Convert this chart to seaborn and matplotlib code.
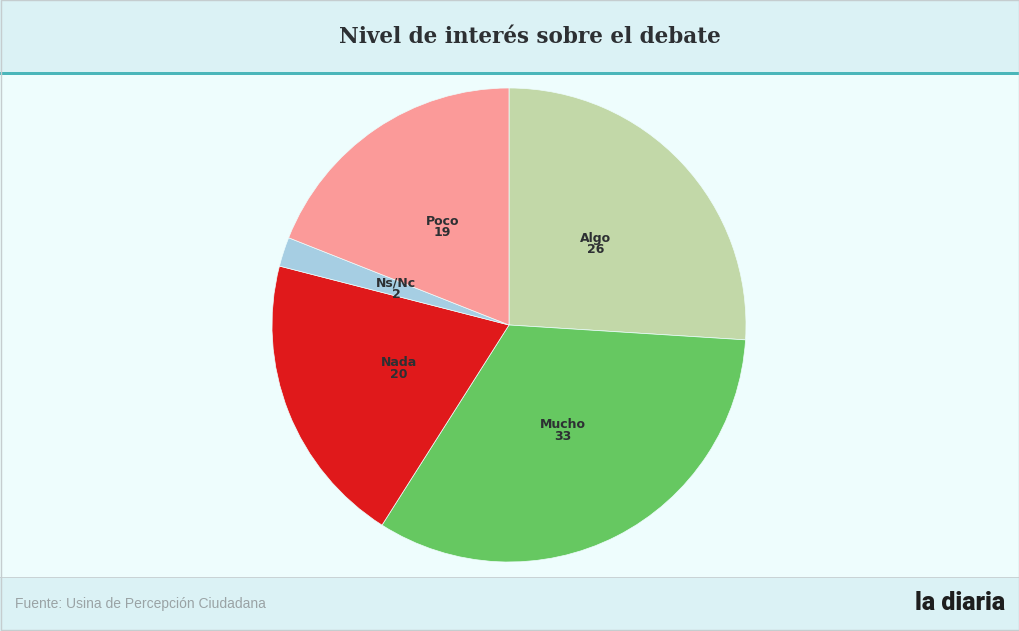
import matplotlib
matplotlib.use("Agg")
import matplotlib.pyplot as plt
from matplotlib.patches import Rectangle
import seaborn as sns

categories = ["Algo", "Mucho", "Nada", "Ns/Nc", "Poco"]
values = [26, 33, 20, 2, 19]
colors = ["#c2d8a8", "#66c861", "#e0191b", "#a6cee3", "#fb9a99"]
title = "Nivel de interés sobre el debate"
source = "Fuente: Usina de Percepción Ciudadana"
logo = "la diaria"

sns.set_theme(style="white")
plt.rcParams['font.family'] = ['DejaVu Sans']

W, H = 1020, 631
fig = plt.figure(figsize=(W / 100, H / 100), dpi=100)
fig.patch.set_facecolor("#eefdfd")

def rect(x0, y0, x1, y1, color, z=0):
    fig.add_artist(Rectangle((x0 / W, 1 - y1 / H), (x1 - x0) / W, (y1 - y0) / H,
                             transform=fig.transFigure, facecolor=color,
                             edgecolor="none", zorder=z))

rect(0, 0, W, 72, "#dbf2f5")
rect(0, 72, W, 75, "#4ab6ba")
rect(0, 577, W, 578, "#c9d3d5")
rect(0, 578, W, H, "#dbf2f5")
fig.add_artist(Rectangle((0.0005, 0.0008), 0.999, 0.9985, transform=fig.transFigure,
                         facecolor="none", edgecolor="#c5cdcf", linewidth=1, zorder=5))

fig.text(530 / W, 1 - 37 / H, title, ha="center", va="center", fontsize=15.5,
         fontweight="bold", family="DejaVu Serif", color="#2d3033")
fig.text(15 / W, 1 - 604 / H, source, ha="left", va="center", fontsize=10,
         family="Liberation Sans", color="#9aa3a5")
fig.text(1005 / W, 1 - 603 / H, logo, ha="right", va="center", fontsize=18,
         fontweight="black", family="Roboto",
         color="#1e1e1e")

cx, cy, r = 509, 325, 237
ax = fig.add_axes([(cx - r) / W, (H - cy - r) / H, 2 * r / W, 2 * r / H])
ax.set_facecolor("none")
labels = [f"{c}\n{v}" for c, v in zip(categories, values)]
wedges, texts = ax.pie(values, colors=colors, labels=labels, startangle=90,
                       counterclock=False, labeldistance=0.5,
                       wedgeprops=dict(edgecolor="#eefdfd", linewidth=0.5),
                       textprops=dict(fontsize=9, fontweight="bold", color="#2d3033",
                                      ha="center", va="center", linespacing=0.85))
ax.set_xlim(-1, 1)
ax.set_ylim(-1, 1)
ax.set_aspect("equal")
ax.axis("off")

fig.savefig("out.png", dpi=100, facecolor=fig.get_facecolor())
